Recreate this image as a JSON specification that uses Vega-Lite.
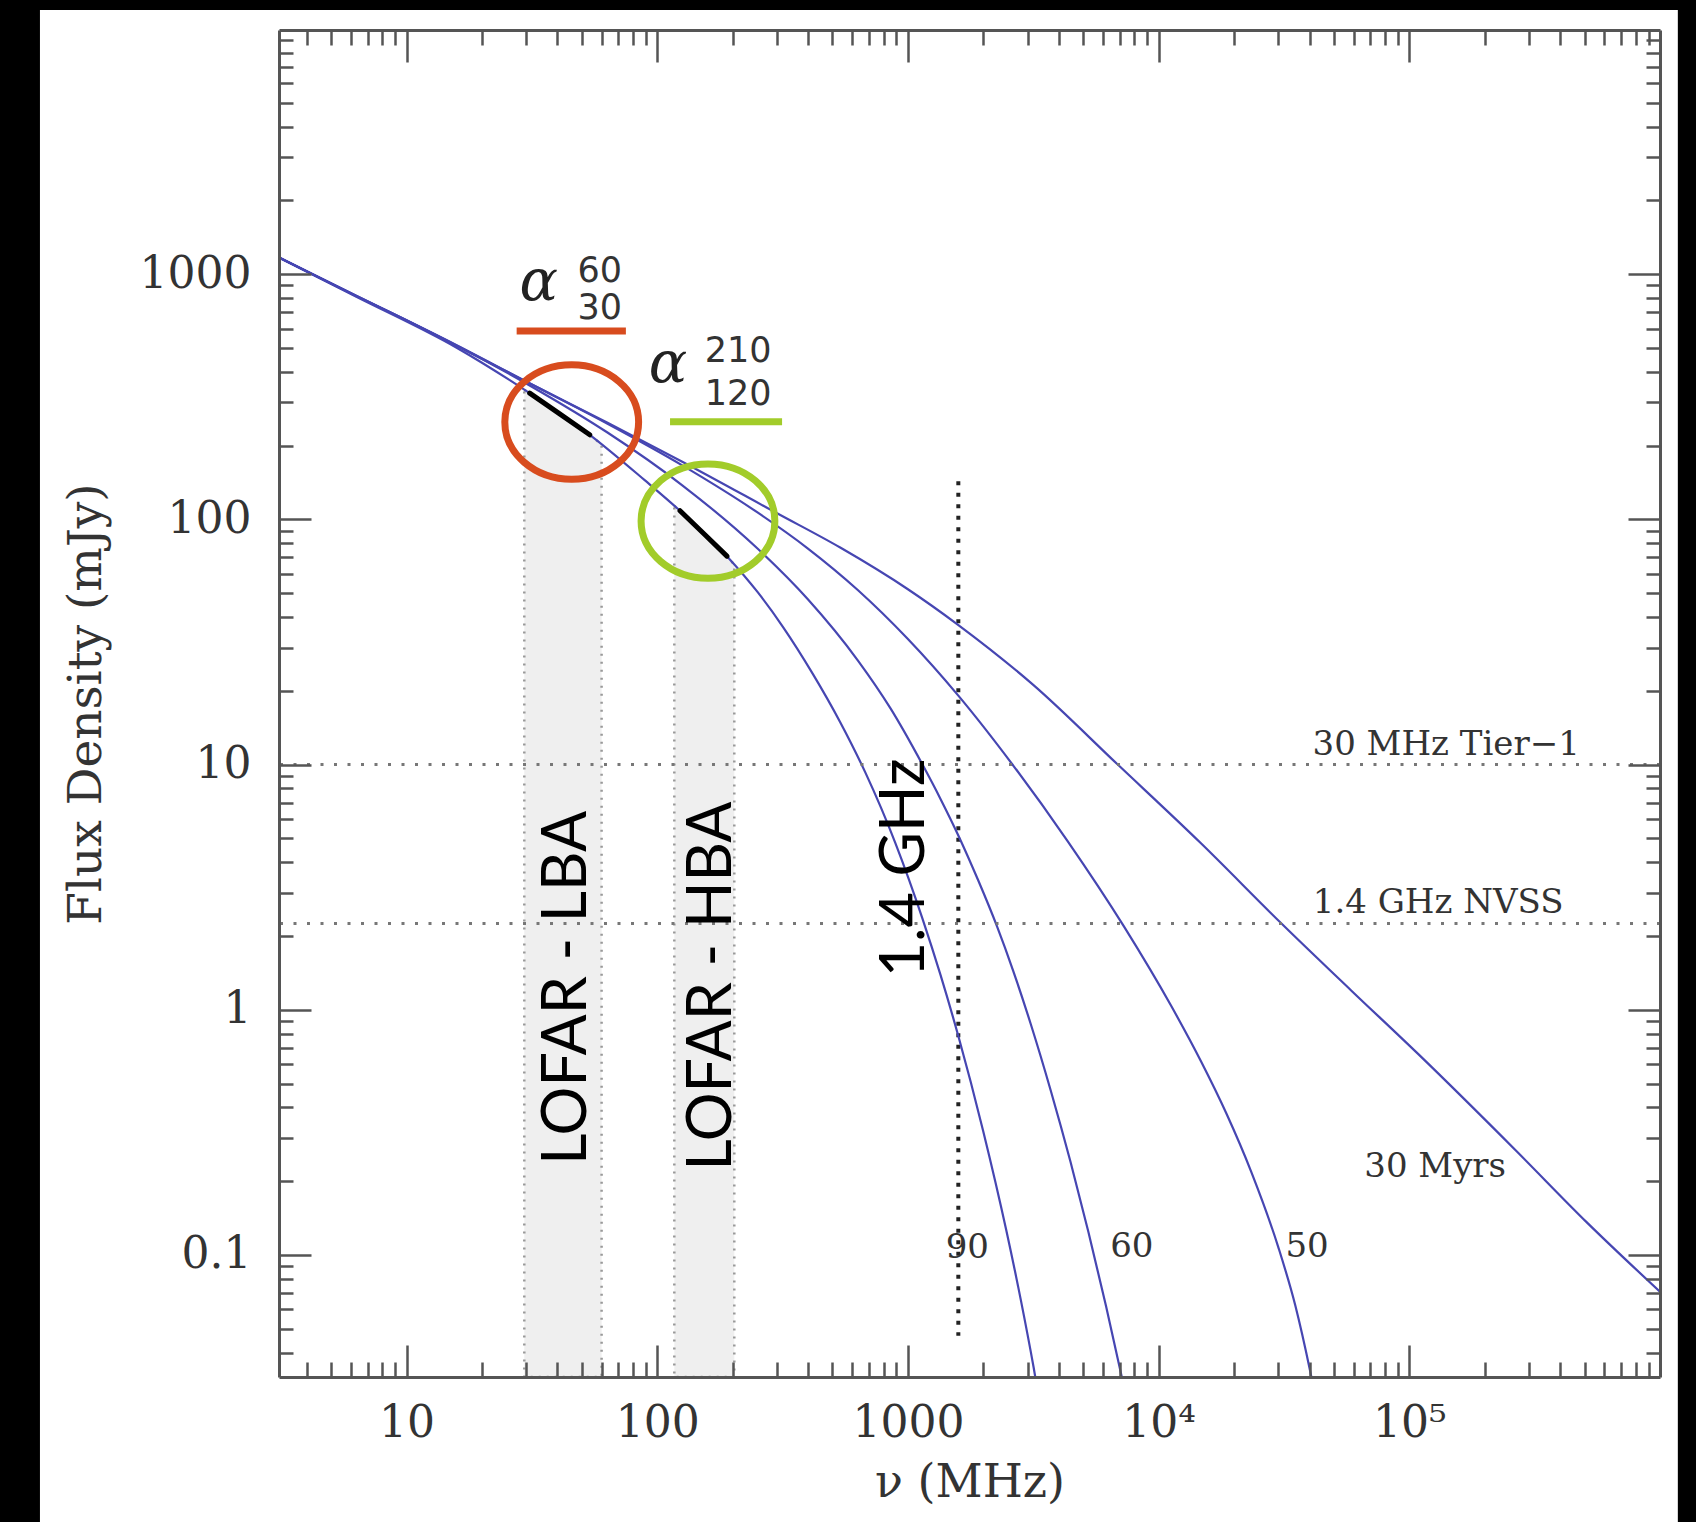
{
  "$schema": "https://vega.github.io/schema/vega-lite/v6.json",
  "width": 1381,
  "height": 1347,
  "autosize": {"type": "none"},
  "padding": {"left": 279, "top": 30, "right": 36, "bottom": 145},
  "background": "#000000",
  "config": {"view": {"stroke": null}},
  "resolve": {"axis": {"x": "independent", "y": "independent"}},
  "datasets": {
    "curves": [
      {"curve": "30", "nu": 3.05, "S": 1178}, {"curve": "30", "nu": 6.31, "S": 816.6}, {"curve": "30", "nu": 15.85, "S": 512.9}, {"curve": "30", "nu": 30.97, "S": 358.9}, {"curve": "30", "nu": 63.1, "S": 248.3}, {"curve": "30", "nu": 125.9, "S": 171.8}, {"curve": "30", "nu": 300.6, "S": 105.9}, {"curve": "30", "nu": 537, "S": 76.74}, {"curve": "30", "nu": 1000, "S": 51.88}, {"curve": "30", "nu": 1585, "S": 37.15}, {"curve": "30", "nu": 3162, "S": 21.13}, {"curve": "30", "nu": 6871, "S": 10.0}, {"curve": "30", "nu": 14720, "S": 4.786}, {"curve": "30", "nu": 30760, "S": 2.259}, {"curve": "30", "nu": 58480, "S": 1.202}, {"curve": "30", "nu": 108400, "S": 0.6607}, {"curve": "30", "nu": 269800, "S": 0.263}, {"curve": "30", "nu": 508200, "S": 0.1365}, {"curve": "30", "nu": 1000000, "S": 0.0708},
      {"curve": "50", "nu": 3.05, "S": 1178}, {"curve": "50", "nu": 6.31, "S": 814.7}, {"curve": "50", "nu": 10, "S": 647.1}, {"curve": "50", "nu": 31.62, "S": 354.8}, {"curve": "50", "nu": 63.1, "S": 246.0}, {"curve": "50", "nu": 125.9, "S": 166.0}, {"curve": "50", "nu": 251.2, "S": 106.7}, {"curve": "50", "nu": 398.1, "S": 76.21}, {"curve": "50", "nu": 631, "S": 51.52}, {"curve": "50", "nu": 1000, "S": 32.51}, {"curve": "50", "nu": 1589, "S": 19.1}, {"curve": "50", "nu": 2636, "S": 9.886}, {"curve": "50", "nu": 4335, "S": 4.875}, {"curve": "50", "nu": 7261, "S": 2.193}, {"curve": "50", "nu": 11220, "S": 1.038}, {"curve": "50", "nu": 14790, "S": 0.6138}, {"curve": "50", "nu": 18620, "S": 0.3784}, {"curve": "50", "nu": 23440, "S": 0.2178}, {"curve": "50", "nu": 30060, "S": 0.1072}, {"curve": "50", "nu": 35080, "S": 0.06237}, {"curve": "50", "nu": 40180, "S": 0.03381}, {"curve": "50", "nu": 44670, "S": 0.0195},
      {"curve": "60", "nu": 3.05, "S": 1178}, {"curve": "60", "nu": 6.31, "S": 812.8}, {"curve": "60", "nu": 10, "S": 648.6}, {"curve": "60", "nu": 31.62, "S": 347.5}, {"curve": "60", "nu": 63.1, "S": 226.5}, {"curve": "60", "nu": 125.9, "S": 137.7}, {"curve": "60", "nu": 251.2, "S": 76.03}, {"curve": "60", "nu": 398.1, "S": 47.32}, {"curve": "60", "nu": 631, "S": 26.61}, {"curve": "60", "nu": 851.1, "S": 16.98}, {"curve": "60", "nu": 1143, "S": 10.0}, {"curve": "60", "nu": 1349, "S": 7.244}, {"curve": "60", "nu": 1589, "S": 5.14}, {"curve": "60", "nu": 1905, "S": 3.381}, {"curve": "60", "nu": 2265, "S": 2.193}, {"curve": "60", "nu": 2630, "S": 1.442}, {"curve": "60", "nu": 3090, "S": 0.875}, {"curve": "60", "nu": 3715, "S": 0.4677}, {"curve": "60", "nu": 4457, "S": 0.2388}, {"curve": "60", "nu": 5248, "S": 0.1242}, {"curve": "60", "nu": 6166, "S": 0.06209}, {"curve": "60", "nu": 7161, "S": 0.03119}, {"curve": "60", "nu": 7943, "S": 0.01905},
      {"curve": "90", "nu": 3.05, "S": 1178}, {"curve": "90", "nu": 6.31, "S": 809.1}, {"curve": "90", "nu": 15.85, "S": 501.2}, {"curve": "90", "nu": 30.97, "S": 327.3}, {"curve": "90", "nu": 53.83, "S": 221.3}, {"curve": "90", "nu": 89.13, "S": 144.5}, {"curve": "90", "nu": 123.3, "S": 108.4}, {"curve": "90", "nu": 189.7, "S": 70.79}, {"curve": "90", "nu": 251.2, "S": 50.58}, {"curve": "90", "nu": 317.7, "S": 36.39}, {"curve": "90", "nu": 416.9, "S": 23.5}, {"curve": "90", "nu": 537, "S": 14.89}, {"curve": "90", "nu": 676.1, "S": 9.29}, {"curve": "90", "nu": 891.3, "S": 4.786}, {"curve": "90", "nu": 1143, "S": 2.355}, {"curve": "90", "nu": 1349, "S": 1.387}, {"curve": "90", "nu": 1589, "S": 0.7816}, {"curve": "90", "nu": 1995, "S": 0.3214}, {"curve": "90", "nu": 2472, "S": 0.1253}, {"curve": "90", "nu": 2818, "S": 0.06592}, {"curve": "90", "nu": 3170, "S": 0.035}, {"curve": "90", "nu": 3548, "S": 0.01778}
    ],
    "bands": [
      {"band": "LBA", "nu": 29.5, "S": 337}, {"band": "LBA", "nu": 31, "S": 327.3}, {"band": "LBA", "nu": 40.7, "S": 270}, {"band": "LBA", "nu": 53.8, "S": 221.3}, {"band": "LBA", "nu": 60, "S": 201.8},
      {"band": "HBA", "nu": 117, "S": 113.5}, {"band": "HBA", "nu": 123.3, "S": 108.4}, {"band": "HBA", "nu": 155, "S": 86.5}, {"band": "HBA", "nu": 189.7, "S": 70.79}, {"band": "HBA", "nu": 203, "S": 65.3}
    ],
    "segs": [
      {"seg": "LBA", "nu": 31, "S": 327.3}, {"seg": "LBA", "nu": 40.7, "S": 270}, {"seg": "LBA", "nu": 53.8, "S": 221.3},
      {"seg": "HBA", "nu": 123.3, "S": 108.4}, {"seg": "HBA", "nu": 155, "S": 86.5}, {"seg": "HBA", "nu": 189.7, "S": 70.79}
    ],
    "hlines": [{"S": 10}, {"S": 2.25}],
    "vline": [{"nu": 1589, "top": 143, "bottom": 0.0468}],
    "bars": [
      {"name": "LBA", "nu1": 27.5, "nu2": 75.0, "S": 586},
      {"name": "HBA", "nu1": 112.5, "nu2": 314.8, "S": 250}
    ],
    "rings": [
      {"name": "LBA", "nu": 45.6, "S": 249.4},
      {"name": "HBA", "nu": 159.4, "S": 98.4}
    ],
    "plotlabels": [
      {"t": "30 MHz Tier−1", "nu": 140300, "S": 10.94},
      {"t": "1.4 GHz NVSS", "nu": 130300, "S": 2.48},
      {"t": "30 Myrs", "nu": 126800, "S": 0.208},
      {"t": "90", "nu": 1726, "S": 0.0973},
      {"t": "60", "nu": 7816, "S": 0.098},
      {"t": "50", "nu": 39080, "S": 0.098}
    ],
    "biglabels": [
      {"t": "LOFAR - LBA", "nu": 44.0, "S": 1.23},
      {"t": "LOFAR - HBA", "nu": 167, "S": 1.25},
      {"t": "1.4 GHz", "nu": 985, "S": 3.79}
    ],
    "alphas": [
      {"t": "α", "nu": 33.69, "S": 783},
      {"t": "α", "nu": 110.4, "S": 363}
    ],
    "scripts": [
      {"t": "60", "nu": 59.03, "S": 927},
      {"t": "30", "nu": 59.03, "S": 655},
      {"t": "210", "nu": 210.1, "S": 437.5},
      {"t": "120", "nu": 210.1, "S": 292.5}
    ]
  },
  "layer": [
    {
      "data": {"values": [{}]},
      "mark": {"type": "rect", "color": "#ffffff"},
      "encoding": {
        "x": {"datum": 0.345, "type": "quantitative", "scale": {"type": "log", "domain": [3.1, 1000000], "nice": false},
          "axis": {"orient": "bottom", "values": [10, 100, 1000, 10000, 100000], "grid": false, "zindex": 1,
            "tickSize": -32, "tickWidth": 2.5, "tickColor": "#555555",
            "domain": true, "domainColor": "#555555", "domainWidth": 3,
            "labels": true, "labelFont": "DejaVu Serif", "labelFontSize": 44, "labelColor": "#333333", "labelPadding": 56,
            "labelOverlap": false, "labelFlush": false,
            "labelExpr": "datum.value == 10000 ? '10⁴' : datum.value == 100000 ? '10⁵' : format(datum.value, 'd')",
            "title": "ν (MHz)", "titleFont": "DejaVu Serif", "titleFontSize": 46, "titleFontWeight": "normal", "titleColor": "#333333", "titlePadding": 15}},
        "x2": {"datum": 1178000},
        "y": {"datum": 0.00815, "type": "quantitative", "scale": {"type": "log", "domain": [0.0318, 9900], "nice": false},
          "axis": {"orient": "left", "values": [0.1, 1, 10, 100, 1000], "grid": false, "zindex": 1,
            "tickSize": -32, "tickWidth": 2.5, "tickColor": "#555555",
            "domain": true, "domainColor": "#555555", "domainWidth": 3,
            "labels": true, "labelFont": "DejaVu Serif", "labelFontSize": 44, "labelColor": "#333333", "labelPadding": 60,
            "labelOverlap": false, "labelFlush": false, "format": "~g",
            "title": "Flux Density (mJy)", "titleFont": "DejaVu Serif", "titleFontSize": 47, "titleFontWeight": "normal", "titleColor": "#333333", "titlePadding": 29}},
        "y2": {"datum": 11940}
      }
    },
    {
      "data": {"name": "bands"},
      "mark": {"type": "area", "clip": true, "interpolate": "monotone", "fill": "#efefef", "stroke": "#999999", "strokeWidth": 2.5, "strokeDash": [2, 6]},
      "encoding": {
        "x": {"field": "nu", "type": "quantitative", "scale": {"type": "log", "domain": [3.1, 1000000], "nice": false},
          "axis": {"orient": "bottom", "values": [4, 5, 6, 7, 8, 9, 20, 30, 40, 50, 60, 70, 80, 90, 200, 300, 400, 500, 600, 700, 800, 900, 2000, 3000, 4000, 5000, 6000, 7000, 8000, 9000, 20000, 30000, 40000, 50000, 60000, 70000, 80000, 90000, 200000, 300000, 400000, 500000, 600000, 700000, 800000, 900000],
            "grid": false, "zindex": 1, "tickSize": -15, "tickWidth": 2.5, "tickColor": "#555555", "domain": false, "labels": false, "title": null}},
        "y": {"field": "S", "type": "quantitative", "scale": {"type": "log", "domain": [0.0318, 9900], "nice": false},
          "axis": {"orient": "left", "values": [0.04, 0.05, 0.06, 0.07, 0.08, 0.09, 0.2, 0.3, 0.4, 0.5, 0.6, 0.7, 0.8, 0.9, 2, 3, 4, 5, 6, 7, 8, 9, 20, 30, 40, 50, 60, 70, 80, 90, 200, 300, 400, 500, 600, 700, 800, 900, 2000, 3000, 4000, 5000, 6000, 7000, 8000, 9000],
            "grid": false, "zindex": 1, "tickSize": -14, "tickWidth": 2.5, "tickColor": "#555555", "domain": false, "labels": false, "title": null}},
        "y2": {"datum": 0.0318},
        "detail": {"field": "band"}
      }
    },
    {
      "data": {"name": "vline"},
      "mark": {"type": "rule", "color": "#222222", "strokeWidth": 4, "strokeDash": [4, 7.5]},
      "encoding": {
        "x": {"field": "nu", "type": "quantitative", "scale": {"type": "log", "domain": [3.1, 1000000], "nice": false},
          "axis": {"orient": "top", "values": [10, 100, 1000, 10000, 100000], "grid": false, "zindex": 1,
            "tickSize": -32, "tickWidth": 2.5, "tickColor": "#555555", "domain": true, "domainColor": "#555555", "domainWidth": 3, "labels": false, "title": null}},
        "y": {"field": "top", "type": "quantitative", "scale": {"type": "log", "domain": [0.0318, 9900], "nice": false},
          "axis": {"orient": "right", "values": [0.1, 1, 10, 100, 1000], "grid": false, "zindex": 1,
            "tickSize": -32, "tickWidth": 2.5, "tickColor": "#555555", "domain": true, "domainColor": "#555555", "domainWidth": 3, "labels": false, "title": null}},
        "y2": {"field": "bottom"}
      }
    },
    {
      "data": {"name": "curves"},
      "mark": {"type": "line", "clip": true, "interpolate": "monotone", "color": "#4646b2", "strokeWidth": 2.2},
      "encoding": {
        "x": {"field": "nu", "type": "quantitative", "scale": {"type": "log", "domain": [3.1, 1000000], "nice": false},
          "axis": {"orient": "top", "values": [4, 5, 6, 7, 8, 9, 20, 30, 40, 50, 60, 70, 80, 90, 200, 300, 400, 500, 600, 700, 800, 900, 2000, 3000, 4000, 5000, 6000, 7000, 8000, 9000, 20000, 30000, 40000, 50000, 60000, 70000, 80000, 90000, 200000, 300000, 400000, 500000, 600000, 700000, 800000, 900000],
            "grid": false, "zindex": 1, "tickSize": -15, "tickWidth": 2.5, "tickColor": "#555555", "domain": false, "labels": false, "title": null}},
        "y": {"field": "S", "type": "quantitative", "scale": {"type": "log", "domain": [0.0318, 9900], "nice": false},
          "axis": {"orient": "right", "values": [0.04, 0.05, 0.06, 0.07, 0.08, 0.09, 0.2, 0.3, 0.4, 0.5, 0.6, 0.7, 0.8, 0.9, 2, 3, 4, 5, 6, 7, 8, 9, 20, 30, 40, 50, 60, 70, 80, 90, 200, 300, 400, 500, 600, 700, 800, 900, 2000, 3000, 4000, 5000, 6000, 7000, 8000, 9000],
            "grid": false, "zindex": 1, "tickSize": -14, "tickWidth": 2.5, "tickColor": "#555555", "domain": false, "labels": false, "title": null}},
        "detail": {"field": "curve"}
      }
    },
    {
      "data": {"name": "hlines"},
      "mark": {"type": "rule", "color": "#777777", "strokeWidth": 3, "strokeDash": [3, 10.5]},
      "encoding": {
        "y": {"field": "S", "type": "quantitative", "scale": {"type": "log", "domain": [0.0318, 9900], "nice": false}, "axis": null}
      }
    },
    {
      "data": {"name": "segs"},
      "mark": {"type": "line", "interpolate": "monotone", "color": "#000000", "strokeWidth": 5, "strokeCap": "round"},
      "encoding": {
        "x": {"field": "nu", "type": "quantitative", "scale": {"type": "log", "domain": [3.1, 1000000], "nice": false}, "axis": null},
        "y": {"field": "S", "type": "quantitative", "scale": {"type": "log", "domain": [0.0318, 9900], "nice": false}, "axis": null},
        "detail": {"field": "seg"}
      }
    },
    {
      "data": {"name": "bars"},
      "mark": {"type": "rule", "strokeWidth": 7},
      "encoding": {
        "x": {"field": "nu1", "type": "quantitative", "scale": {"type": "log", "domain": [3.1, 1000000], "nice": false}, "axis": null},
        "x2": {"field": "nu2"},
        "y": {"field": "S", "type": "quantitative", "scale": {"type": "log", "domain": [0.0318, 9900], "nice": false}, "axis": null},
        "color": {"field": "name", "type": "nominal", "scale": {"domain": ["LBA", "HBA"], "range": ["#d84c1e", "#a2cc2a"]}, "legend": null}
      }
    },
    {
      "data": {"name": "rings"},
      "mark": {"type": "point", "filled": false, "strokeWidth": 7, "opacity": 1, "size": 17900, "shape": "M-1,0A1,0.855,0,1,1,1,0A1,0.855,0,1,1,-1,0Z"},
      "encoding": {
        "x": {"field": "nu", "type": "quantitative", "scale": {"type": "log", "domain": [3.1, 1000000], "nice": false}, "axis": null},
        "y": {"field": "S", "type": "quantitative", "scale": {"type": "log", "domain": [0.0318, 9900], "nice": false}, "axis": null},
        "color": {"field": "name", "type": "nominal", "scale": {"domain": ["LBA", "HBA"], "range": ["#d84c1e", "#a2cc2a"]}, "legend": null}
      }
    },
    {
      "data": {"name": "plotlabels"},
      "mark": {"type": "text", "font": "DejaVu Serif", "fontSize": 34, "color": "#333333", "align": "center", "baseline": "alphabetic"},
      "encoding": {
        "x": {"field": "nu", "type": "quantitative", "scale": {"type": "log", "domain": [3.1, 1000000], "nice": false}, "axis": null},
        "y": {"field": "S", "type": "quantitative", "scale": {"type": "log", "domain": [0.0318, 9900], "nice": false}, "axis": null},
        "text": {"field": "t"}
      }
    },
    {
      "data": {"name": "biglabels"},
      "mark": {"type": "text", "font": "Lato", "fontSize": 61, "color": "#000000", "align": "center", "baseline": "middle", "angle": 270},
      "encoding": {
        "x": {"field": "nu", "type": "quantitative", "scale": {"type": "log", "domain": [3.1, 1000000], "nice": false}, "axis": null},
        "y": {"field": "S", "type": "quantitative", "scale": {"type": "log", "domain": [0.0318, 9900], "nice": false}, "axis": null},
        "text": {"field": "t"}
      }
    },
    {
      "data": {"name": "alphas"},
      "mark": {"type": "text", "font": "DejaVu Serif", "fontStyle": "italic", "fontSize": 57, "color": "#222222", "align": "center", "baseline": "alphabetic"},
      "encoding": {
        "x": {"field": "nu", "type": "quantitative", "scale": {"type": "log", "domain": [3.1, 1000000], "nice": false}, "axis": null},
        "y": {"field": "S", "type": "quantitative", "scale": {"type": "log", "domain": [0.0318, 9900], "nice": false}, "axis": null},
        "text": {"field": "t"}
      }
    },
    {
      "data": {"name": "scripts"},
      "mark": {"type": "text", "font": "DejaVu Sans", "fontSize": 35, "color": "#333333", "align": "center", "baseline": "alphabetic"},
      "encoding": {
        "x": {"field": "nu", "type": "quantitative", "scale": {"type": "log", "domain": [3.1, 1000000], "nice": false}, "axis": null},
        "y": {"field": "S", "type": "quantitative", "scale": {"type": "log", "domain": [0.0318, 9900], "nice": false}, "axis": null},
        "text": {"field": "t"}
      }
    }
  ]
}
